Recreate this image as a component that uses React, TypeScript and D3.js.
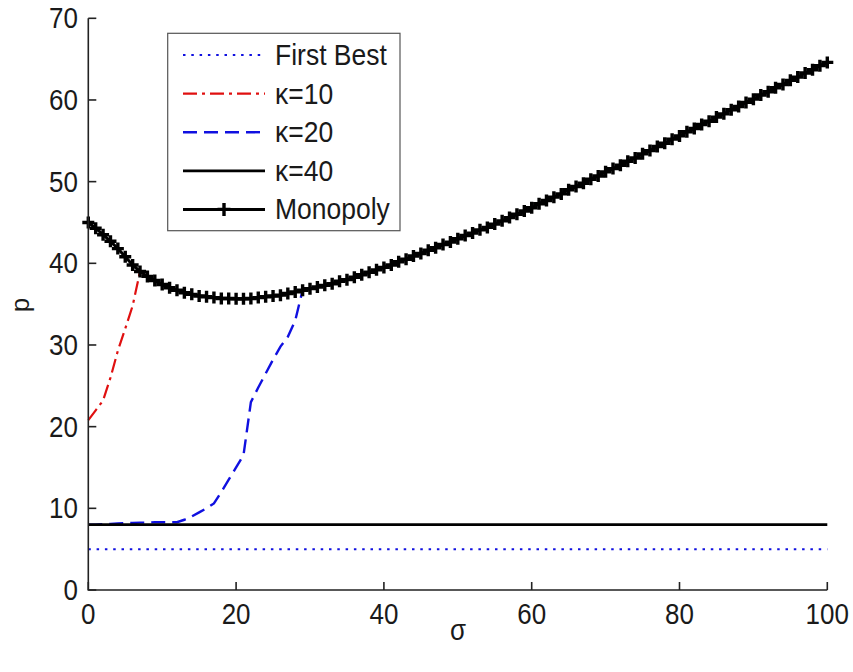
import React from "react";
import * as d3 from "d3";

const sigma: number[] = d3.range(0, 101);

const monopoly: number[] = [
  45.0, 44.3, 43.5, 42.7, 41.8, 40.8, 39.8, 39.0, 38.4, 37.9,
  37.4, 37.0, 36.7, 36.4, 36.2, 36.0, 35.9, 35.8, 35.7, 35.7,
  35.65, 35.65, 35.7, 35.8, 35.9, 36.0, 36.1, 36.3, 36.5, 36.7,
  36.9, 37.1, 37.3, 37.5, 37.8, 38.0, 38.3, 38.6, 38.9, 39.2,
  39.5, 39.8, 40.2, 40.5, 40.9, 41.2, 41.6, 41.9, 42.3, 42.6,
  43.0, 43.4, 43.7, 44.1, 44.4, 44.8, 45.2, 45.6, 46.0, 46.4,
  46.8, 47.3, 47.7, 48.1, 48.5, 49.0, 49.4, 49.8, 50.3, 50.7,
  51.2, 51.6, 52.0, 52.5, 52.9, 53.4, 53.8, 54.3, 54.7, 55.2,
  55.6, 56.1, 56.5, 57.0, 57.4, 57.9, 58.3, 58.8, 59.2, 59.7,
  60.1, 60.6, 61.0, 61.5, 61.9, 62.4, 62.8, 63.3, 63.7, 64.2,
  64.6,
];

// kappa = 10: own values before it joins the monopoly curve
const kappa10Own: number[] = [20.8, 22.0, 23.2, 26.0, 29.3, 32.0, 34.8];
// kappa = 20: own values before it joins the monopoly curve
const kappa20Own: number[] = [
  8.0, 8.0, 8.05, 8.1, 8.15, 8.2, 8.2, 8.25, 8.25, 8.3,
  8.3, 8.3, 8.3, 8.6, 9.0, 9.5, 10.0, 10.6, 12.0, 13.5,
  15.0, 16.5, 23.0, 24.8, 26.5, 28.2, 29.8, 31.0, 33.0,
];
const kappa40Value = 8.0;
const firstBestValue = 5.0;

const xTicks: number[] = [0, 20, 40, 60, 80, 100];
const yTicks: number[] = [0, 10, 20, 30, 40, 50, 60, 70];

const legendLabels: string[] = ["First Best", "κ=10", "κ=20", "κ=40", "Monopoly"];

export default function App() {
  const x = d3.scaleLinear().domain([0, 100]).range([88.3, 827.3]);
  const y = d3.scaleLinear().domain([0, 70]).range([590, 18.3]);

  const line = d3
    .line<[number, number]>()
    .x((d) => x(d[0]))
    .y((d) => y(d[1]));

  const kappa10 = kappa10Own.concat(monopoly.slice(kappa10Own.length));
  const kappa20 = kappa20Own.concat(monopoly.slice(kappa20Own.length));
  const toPts = (vals: number[]) => vals.map((v, i) => [sigma[i], v] as [number, number]);

  const font = "'Liberation Sans', Arial, sans-serif";
  const txt = "#1a1a1a";
  const blue = "#1010e0";
  const red = "#e01010";

  const styles = [
    { stroke: blue, dash: "2.5,5.8", w: 2 },
    { stroke: red, dash: "14,5,3,5", w: 2.2 },
    { stroke: blue, dash: "14,7", w: 2.4 },
    { stroke: "#000", dash: "", w: 2.8 },
    { stroke: "#000", dash: "", w: 3 },
  ];

  const plus = (cx: number, cy: number, s: number, key: any) => (
    <path
      key={key}
      d={`M${cx - s / 2},${cy}H${cx + s / 2}M${cx},${cy - s / 2}V${cy + s / 2}`}
      stroke="#000"
      strokeWidth={3.4}
    />
  );

  const lgX0 = 183;
  const lgX1 = 265;
  const lgY0 = 55;
  const lgStep = 38.6;

  const T = (px: number, py: number, s: string | number, anchor: string, key?: any) => (
    <text
      key={key}
      transform={`translate(${px},${py}) scale(1,1.12)`}
      textAnchor={anchor as any}
    >
      {s}
    </text>
  );

  return (
    <svg
      width={853}
      height={672}
      style={{ position: "absolute", left: 0, top: 0, background: "#fff" }}
    >
      <rect width={853} height={672} fill="#fff" />
      {/* series */}
      <path
        d={line(sigma.map((s) => [s, firstBestValue] as [number, number])) || ""}
        fill="none"
        stroke={styles[0].stroke}
        strokeWidth={styles[0].w}
        strokeDasharray={styles[0].dash}
      />
      <path
        d={line(toPts(kappa10)) || ""}
        fill="none"
        stroke={styles[1].stroke}
        strokeWidth={styles[1].w}
        strokeDasharray={styles[1].dash}
      />
      <path
        d={line(toPts(kappa20)) || ""}
        fill="none"
        stroke={styles[2].stroke}
        strokeWidth={styles[2].w}
        strokeDasharray={styles[2].dash}
      />
      <path
        d={line(sigma.map((s) => [s, kappa40Value] as [number, number])) || ""}
        fill="none"
        stroke="#000"
        strokeWidth={styles[3].w}
      />
      <path d={line(toPts(monopoly)) || ""} fill="none" stroke="#000" strokeWidth={styles[4].w} />
      {monopoly.map((v, i) => plus(x(sigma[i]), y(v), 12, i))}

      {/* axes */}
      <g stroke="#222" strokeWidth={1.6} fill="none">
        <path d={`M${x(0)},${y(70)}V${y(0)}H${x(100)}`} />
        {yTicks.map((t) => (
          <path key={"yt" + t} d={`M${x(0)},${y(t)}h8`} />
        ))}
        {xTicks.map((t) => (
          <path key={"xt" + t} d={`M${x(t)},${y(0)}v-8`} />
        ))}
      </g>
      <g fontFamily={font} fontSize={26} fill={txt}>
        {yTicks.map((t) => T(78, y(t) + 10, t, "end", "yl" + t))}
        {xTicks.map((t) => T(x(t), 624, t, "middle", "xl" + t))}
        {T(458, 640, "σ", "middle")}
        <text transform="translate(29,305) rotate(-90)" textAnchor="middle">
          p
        </text>
      </g>

      {/* legend */}
      <rect x={167.7} y={33.3} width={232.3} height={197.4} fill="#fff" stroke="#555" strokeWidth={1.2} />
      <g fontFamily={font} fontSize={26.5} fill={txt}>
        {legendLabels.map((lab, i) => {
          const ly = lgY0 + i * lgStep;
          const st = styles[i];
          return (
            <g key={lab}>
              <path
                d={`M${lgX0},${ly}H${lgX1}`}
                stroke={st.stroke}
                strokeWidth={st.w}
                strokeDasharray={st.dash || undefined}
                fill="none"
              />
              {i === 4 && plus((lgX0 + lgX1) / 2, ly, 13, "lp")}
              {T(275, ly + 10, lab, "start")}
            </g>
          );
        })}
      </g>
    </svg>
  );
}
